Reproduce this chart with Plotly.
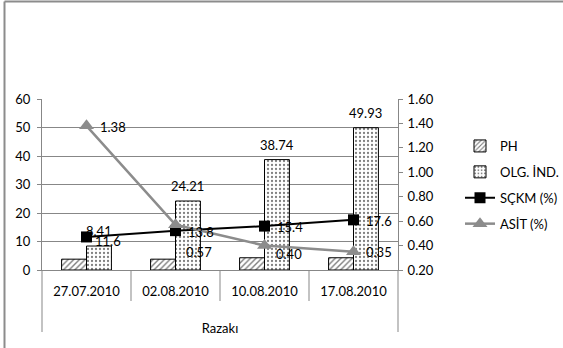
import plotly.graph_objects as go

# Sampling dates (Razakı grape)
dates = ["27.07.2010", "02.08.2010", "10.08.2010", "17.08.2010"]
ph = [3.8, 3.8, 4.3, 4.3]
olg_ind = [8.41, 24.21, 38.74, 49.93]
sckm = [11.6, 13.8, 15.4, 17.6]
asit = [1.38, 0.57, 0.40, 0.35]
group_name = "Razakı"

# label offsets (px) for the line series, so crowded labels stay readable
sckm_shift = [(6, -4), (10, -1), (10, -1), (10, -1)]
asit_shift = [(11, -1), (8, -27), (9, -8), (10, 0)]

W, H = 563, 348
ML, MR, MT, MB = 42, 165, 99, 78
PW, PH_ = W - ML - MR, H - MT - MB

FONT = "Lato"
FS = 13
GRID = "#878787"
TXT = "#000000"


def px_x(p):
    return (p - ML) / PW


def px_y(p):
    return (H - MB - p) / PH_


fig = go.Figure()

fig.add_trace(go.Bar(
    x=dates, y=ph, name="PH", legendgroup="a",
    marker=dict(color="white", line=dict(color="black", width=1),
                pattern=dict(shape="/", fgcolor="black", bgcolor="white",
                             size=4, solidity=0.35)),
))
fig.add_trace(go.Bar(
    x=dates, y=olg_ind, name="OLG. İND.", legendgroup="b",
    marker=dict(color="white", line=dict(color="black", width=1),
                pattern=dict(shape=".", fgcolor="black", bgcolor="white",
                             size=4, solidity=0.25)),
))
fig.add_trace(go.Scatter(
    x=dates, y=sckm, name="SÇKM (%)", legendgroup="c",
    mode="lines+markers",
    line=dict(color="black", width=2),
    marker=dict(symbol="square", size=11, color="black"),
    cliponaxis=False,
))
fig.add_trace(go.Scatter(
    x=dates, y=asit, name="ASİT (%)", legendgroup="d", yaxis="y2",
    mode="lines+markers",
    line=dict(color="#8c8c8c", width=2.5),
    marker=dict(symbol="triangle-up", size=13, color="#8c8c8c"),
    cliponaxis=False,
))

annotations = []
tf = dict(family=FONT, size=FS, color=TXT)
# bar value labels, centred over the OLG. İND. bars (right half of each group)
bar_w_px = PW / len(dates) * (1 - 0.44) / 2
for d, v in zip(dates, olg_ind):
    annotations.append(dict(x=d, y=v, xref="x", yref="y", text=f"{v:.2f}",
                            showarrow=False, xanchor="center", yanchor="middle",
                            xshift=bar_w_px / 2, yshift=15, font=tf))
for d, v, (dx, dy) in zip(dates, sckm, sckm_shift):
    annotations.append(dict(x=d, y=v, xref="x", yref="y", text=f"{v}",
                            showarrow=False, xanchor="left", yanchor="middle",
                            xshift=dx, yshift=dy, font=tf))
for d, v, (dx, dy) in zip(dates, asit, asit_shift):
    annotations.append(dict(x=d, y=v, xref="x", yref="y2", text=f"{v:.2f}",
                            showarrow=False, xanchor="left", yanchor="middle",
                            xshift=dx, yshift=dy, font=tf))

shapes = []
n = len(dates)
# category separators below the axis (inner level) and outer group bounds
for i in range(n + 1):
    outer = i in (0, n)
    shapes.append(dict(type="line", xref="x domain", yref="y domain",
                       x0=i / n, x1=i / n, y0=0,
                       y1=-(62 if outer else 31) / PH_,
                       line=dict(color=GRID, width=1)))
# chart frame (top and left edges)
shapes.append(dict(type="line", xref="paper", yref="paper",
                   x0=px_x(4.5), x1=px_x(W + 5), y0=px_y(1.5), y1=px_y(1.5),
                   line=dict(color="#8c8c8c", width=2)))
shapes.append(dict(type="line", xref="paper", yref="paper",
                   x0=px_x(4.5), x1=px_x(4.5), y0=px_y(1.5), y1=px_y(H + 5),
                   line=dict(color="#8c8c8c", width=2)))

fig.update_layout(
    width=W, height=H,
    margin=dict(l=ML, r=MR, t=MT, b=MB, autoexpand=False),
    paper_bgcolor="white", plot_bgcolor="white",
    font=dict(family=FONT, size=FS, color=TXT),
    barmode="group", bargap=0.44, bargroupgap=0,
    showlegend=True,
    legend=dict(x=px_x(460), y=px_y(131), xanchor="left", yanchor="top",
                traceorder="grouped", tracegroupgap=6,
                font=dict(family=FONT, size=FS, color=TXT),
                bgcolor="rgba(0,0,0,0)"),
    xaxis=dict(type="category", showline=True, linecolor=GRID, linewidth=1,
               ticks="", showgrid=False, ticklabelstandoff=9,
               tickfont=dict(family=FONT, size=FS, color=TXT),
               title=dict(text=group_name, standoff=26,
                          font=dict(family=FONT, size=FS, color=TXT)),
               automargin=False),
    yaxis=dict(range=[0, 60], dtick=10, showgrid=True, gridcolor=GRID,
               gridwidth=1, showline=True, linecolor=GRID, ticks="outside",
               ticklen=4, tickcolor=GRID, zeroline=False,
               ticklabelstandoff=4,
               tickfont=dict(family=FONT, size=FS, color=TXT),
               automargin=False),
    yaxis2=dict(range=[0.2, 1.6], dtick=0.2, tickformat=".2f",
                overlaying="y", side="right", showgrid=False, showline=True,
                linecolor=GRID, ticks="outside", ticklen=4, tickcolor=GRID,
                zeroline=False, ticklabelstandoff=2,
                tickfont=dict(family=FONT, size=FS, color=TXT),
                automargin=False),
    shapes=shapes,
    annotations=annotations,
)

fig.write_html("out.html")
